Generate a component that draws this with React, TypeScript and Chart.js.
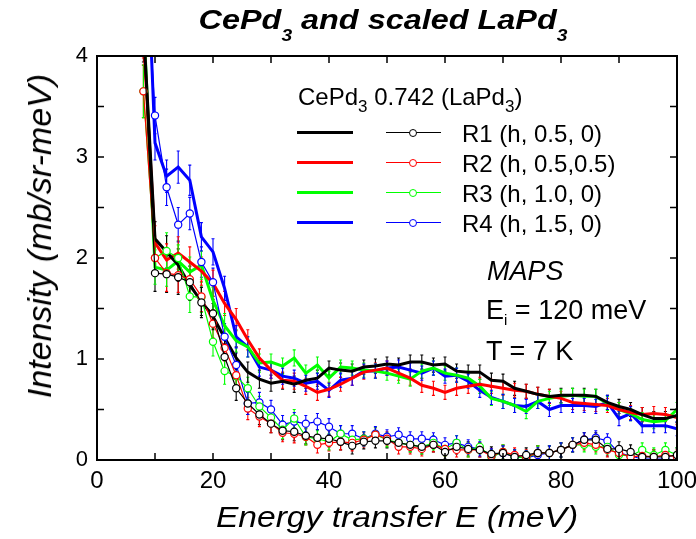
import React, { useEffect, useRef } from "react";
import { Chart, registerables } from "chart.js";

Chart.register(...registerables);

const FONT = '"Liberation Sans", Arial, Helvetica, sans-serif';

// Energy transfer (meV)
const energies = [8, 10, 12, 14, 16, 18, 20, 22, 24, 26, 28, 30, 32, 34, 36, 38, 40, 42, 44, 46, 48, 50, 52, 54, 56, 58, 60, 62, 64, 66, 68, 70, 72, 74, 76, 78, 80, 82, 84, 86, 88, 90, 92, 94, 96, 98, 100];

// CePd3 (thick lines)
const cePdR1 = [4.3, 2.19, 2.06, 1.93, 1.73, 1.57, 1.42, 1.21, 1.01, 0.87, 0.80, 0.76, 0.78, 0.75, 0.79, 0.81, 0.91, 0.89, 0.88, 0.92, 0.93, 0.95, 0.94, 0.97, 0.97, 0.94, 0.95, 0.88, 0.87, 0.87, 0.79, 0.78, 0.71, 0.68, 0.65, 0.63, 0.64, 0.64, 0.64, 0.63, 0.57, 0.53, 0.50, 0.45, 0.41, 0.41, 0.44];
const cePdR2 = [4.2, 2.15, 1.98, 2.05, 1.96, 1.87, 1.75, 1.55, 1.39, 1.19, 1.01, 0.89, 0.79, 0.78, 0.73, 0.67, 0.70, 0.75, 0.81, 0.87, 0.89, 0.91, 0.86, 0.81, 0.74, 0.71, 0.67, 0.71, 0.73, 0.75, 0.73, 0.71, 0.69, 0.68, 0.65, 0.63, 0.61, 0.57, 0.56, 0.55, 0.54, 0.50, 0.47, 0.45, 0.46, 0.45, 0.42];
const cePdR3 = [4.4, 1.91, 1.88, 1.97, 1.86, 1.93, 1.58, 1.33, 1.18, 1.12, 0.96, 0.97, 0.93, 1.01, 0.86, 0.94, 0.81, 0.92, 0.91, 0.89, 0.88, 0.86, 0.83, 0.80, 0.88, 0.91, 0.86, 0.84, 0.81, 0.73, 0.61, 0.58, 0.54, 0.48, 0.58, 0.61, 0.63, 0.64, 0.63, 0.63, 0.56, 0.50, 0.46, 0.40, 0.38, 0.39, 0.50];
const cePdR4 = [6.0, 3.14, 2.81, 2.90, 2.77, 2.21, 2.06, 1.70, 1.22, 1.12, 0.92, 0.89, 0.83, 0.81, 0.76, 0.78, 0.69, 0.79, 0.81, 0.88, 0.88, 0.91, 0.92, 0.89, 0.86, 0.91, 0.83, 0.84, 0.78, 0.69, 0.62, 0.58, 0.54, 0.53, 0.58, 0.50, 0.54, 0.54, 0.54, 0.53, 0.57, 0.41, 0.46, 0.34, 0.34, 0.34, 0.31];

// 0.742 x LaPd3 (thin lines with circles)
const laPdR1 = [4.2, 1.85, 1.84, 1.81, 1.76, 1.56, 1.45, 1.02, 0.71, 0.56, 0.45, 0.36, 0.29, 0.28, 0.24, 0.22, 0.21, 0.18, 0.14, 0.18, 0.19, 0.19, 0.17, 0.15, 0.13, 0.15, 0.08, 0.13, 0.11, 0.10, 0.06, 0.07, 0.03, 0.05, 0.07, 0.07, 0.10, 0.15, 0.20, 0.20, 0.11, 0.11, 0.08, 0.03, 0.03, 0.03, 0.05];
const laPdR2 = [3.65, 2.0, 1.85, 1.83, 1.79, 1.62, 1.35, 1.11, 0.84, 0.51, 0.43, 0.36, 0.27, 0.26, 0.23, 0.15, 0.17, 0.18, 0.17, 0.20, 0.25, 0.21, 0.13, 0.13, 0.11, 0.15, 0.11, 0.10, 0.10, 0.10, 0.04, 0.08, 0.05, 0.03, 0.07, 0.07, 0.10, 0.15, 0.17, 0.15, 0.10, 0.07, 0.03, 0.04, 0.03, 0.05, 0.03];
const laPdR3 = [3.65, 2.0, 2.07, 2.0, 1.62, 1.61, 1.17, 0.88, 0.83, 0.71, 0.53, 0.42, 0.30, 0.41, 0.23, 0.21, 0.18, 0.26, 0.20, 0.21, 0.25, 0.20, 0.17, 0.15, 0.13, 0.17, 0.11, 0.17, 0.10, 0.13, 0.03, 0.08, 0.03, 0.02, 0.07, 0.07, 0.10, 0.15, 0.15, 0.13, 0.13, 0.05, 0.04, 0.10, 0.05, 0.10, 0.05];
const laPdR4 = [5.5, 3.41, 2.70, 2.33, 2.44, 1.96, 1.76, 1.22, 0.94, 0.56, 0.57, 0.50, 0.35, 0.38, 0.36, 0.38, 0.33, 0.26, 0.26, 0.21, 0.26, 0.23, 0.25, 0.21, 0.21, 0.20, 0.15, 0.17, 0.13, 0.11, 0.04, 0.07, 0.03, 0.02, 0.05, 0.07, 0.10, 0.15, 0.20, 0.22, 0.19, 0.07, 0.04, 0.01, 0.01, 0.01, 0.0];

// error bar half-heights
const errThick = [0.22, 0.17, 0.16, 0.16, 0.15, 0.14, 0.13, 0.12, 0.11, 0.10, 0.09, 0.08, 0.08, 0.08, 0.08, 0.08, 0.07, 0.07, 0.07, 0.07, 0.07, 0.07, 0.07, 0.07, 0.07, 0.07, 0.07, 0.07, 0.07, 0.07, 0.07, 0.07, 0.07, 0.07, 0.07, 0.07, 0.07, 0.07, 0.07, 0.07, 0.07, 0.07, 0.07, 0.07, 0.07, 0.07, 0.07];
const errThin = [0.26, 0.18, 0.18, 0.17, 0.16, 0.15, 0.14, 0.13, 0.12, 0.11, 0.10, 0.09, 0.09, 0.09, 0.08, 0.08, 0.08, 0.08, 0.08, 0.07, 0.07, 0.07, 0.07, 0.07, 0.07, 0.07, 0.07, 0.07, 0.07, 0.07, 0.07, 0.07, 0.07, 0.07, 0.07, 0.07, 0.07, 0.07, 0.07, 0.07, 0.07, 0.07, 0.07, 0.07, 0.07, 0.07, 0.07];

const seriesLabels = ["R1 (h, 0.5, 0)", "R2 (h, 0.5,0.5)", "R3 (h, 1.0, 0)", "R4 (h, 1.5, 0)"];
const seriesColors = ["#000000", "#ff0000", "#00ff00", "#0000ff"];
const cePdSeries = [cePdR1, cePdR2, cePdR3, cePdR4];
const laPdSeries = [laPdR1, laPdR2, laPdR3, laPdR4];

const xTicks = [0, 20, 40, 60, 80, 100];
const yTicks = [0, 1, 2, 3, 4];

function Sub({ children, size, top }: { children: React.ReactNode; size: number; top: number }) {
  return <span style={{ fontSize: size, position: "relative", top }}>{children}</span>;
}

export default function App() {
  const ref = useRef<HTMLCanvasElement>(null);

  useEffect(() => {
    const canvas = ref.current;
    if (!canvas) return;

    const errInfo: { values: number[]; errors: number[]; color: string }[] = [];
    const datasets: any[] = [];
    laPdSeries.forEach((vals, k) => {
      datasets.push({
        label: "LaPd3 " + seriesLabels[k],
        data: energies.map((e, i) => ({ x: e, y: vals[i] })),
        borderColor: seriesColors[k],
        borderWidth: 1.2,
        pointRadius: 3.6,
        pointBorderWidth: 1.2,
        pointBackgroundColor: "#ffffff",
        pointBorderColor: seriesColors[k],
        tension: 0,
        fill: false,
      });
      errInfo.push({ values: vals, errors: errThin, color: seriesColors[k] });
    });
    cePdSeries.forEach((vals, k) => {
      datasets.push({
        label: "CePd3 " + seriesLabels[k],
        data: energies.map((e, i) => ({ x: e, y: vals[i] })),
        borderColor: seriesColors[k],
        borderWidth: 3,
        pointRadius: 0,
        tension: 0,
        fill: false,
      });
      errInfo.push({ values: vals, errors: errThick, color: seriesColors[k] });
    });

    const errorBars = {
      id: "errorBars",
      beforeDatasetsDraw(chart: any) {
        const { ctx, chartArea, scales } = chart;
        ctx.save();
        ctx.beginPath();
        ctx.rect(chartArea.left, chartArea.top, chartArea.right - chartArea.left, chartArea.bottom - chartArea.top);
        ctx.clip();
        ctx.lineWidth = 1.1;
        errInfo.forEach((s) => {
          ctx.strokeStyle = s.color;
          ctx.beginPath();
          energies.forEach((e, i) => {
            const px = scales.x.getPixelForValue(e);
            const y1 = scales.y.getPixelForValue(s.values[i] - s.errors[i]);
            const y2 = scales.y.getPixelForValue(s.values[i] + s.errors[i]);
            ctx.moveTo(px, y1);
            ctx.lineTo(px, y2);
            ctx.moveTo(px - 1.5, y1);
            ctx.lineTo(px + 1.5, y1);
            ctx.moveTo(px - 1.5, y2);
            ctx.lineTo(px + 1.5, y2);
          });
          ctx.stroke();
        });
        ctx.restore();
      },
    };

    const frame = {
      id: "frame",
      afterDraw(chart: any) {
        const { ctx, chartArea, scales } = chart;
        const { left, right, top, bottom } = chartArea;
        ctx.save();
        ctx.strokeStyle = "#000";
        ctx.lineWidth = 1.5;
        ctx.beginPath();
        for (let v = 10; v < 100; v += 10) {
          const px = scales.x.getPixelForValue(v);
          ctx.moveTo(px, bottom);
          ctx.lineTo(px, bottom - 7);
          ctx.moveTo(px, top);
          ctx.lineTo(px, top + 7);
        }
        for (let v = 0.5; v < 4; v += 0.5) {
          const py = scales.y.getPixelForValue(v);
          ctx.moveTo(left, py);
          ctx.lineTo(left + 7, py);
          ctx.moveTo(right, py);
          ctx.lineTo(right - 7, py);
        }
        ctx.stroke();
        ctx.lineWidth = 2;
        ctx.strokeRect(left, top, right - left, bottom - top);
        ctx.restore();
      },
    };

    const chart = new Chart(canvas, {
      type: "line",
      data: { datasets },
      options: {
        animation: false,
        responsive: false,
        devicePixelRatio: 1,
        events: [],
        layout: { padding: { left: 0, right: 19, top: 56, bottom: 0 } },
        plugins: {
          legend: { display: false },
          title: { display: false },
          tooltip: { enabled: false },
        },
        scales: {
          x: {
            type: "linear",
            min: 0,
            max: 100,
            grid: { display: false, drawTicks: false },
            border: { display: false },
            afterBuildTicks: (s: any) => {
              s.ticks = xTicks.map((v) => ({ value: v }));
            },
            ticks: {
              color: "#000",
              font: { family: FONT, size: 24 },
              padding: 7,
              maxRotation: 0,
              autoSkip: false,
            },
            afterFit: (s: any) => {
              s.height = 79;
              s.paddingLeft = 0;
              s.paddingRight = 0;
            },
          },
          y: {
            type: "linear",
            min: 0,
            max: 4,
            grid: { display: false, drawTicks: false },
            border: { display: false },
            afterBuildTicks: (s: any) => {
              s.ticks = yTicks.map((v) => ({ value: v }));
            },
            ticks: {
              color: "#000",
              font: { family: FONT, size: 22 },
              padding: 9,
              autoSkip: false,
            },
            afterFit: (s: any) => {
              s.width = 97;
              s.paddingTop = 0;
              s.paddingBottom = 0;
            },
          },
        },
      } as any,
      plugins: [errorBars, frame],
    });

    return () => chart.destroy();
  }, []);

  const abs: React.CSSProperties = { position: "absolute", whiteSpace: "nowrap", lineHeight: 1 };
  const rowY = [132.7, 162.7, 192.7, 222.7];

  return (
    <div style={{ position: "fixed", left: 0, top: 0, width: 696, height: 539, background: "#fff", fontFamily: FONT, color: "#000", overflow: "hidden" }}>
      <canvas ref={ref} width={696} height={539} style={{ position: "absolute", left: 0, top: 0, width: 696, height: 539 }} />

      {/* Title */}
      <div style={{ ...abs, left: 83, width: 600, top: 30 - 0.8465 * 27, fontSize: 27, textAlign: "center", fontWeight: "bold", fontStyle: "italic", transform: "scaleX(1.2)" }}>
        CePd<Sub size={16} top={12}>3</Sub> and scaled LaPd<Sub size={16} top={12}>3</Sub>
      </div>

      {/* Axis titles */}
      <div style={{ ...abs, left: 97, width: 600, top: 527 - 0.8465 * 30, fontSize: 30, textAlign: "center", fontStyle: "italic", transform: "scaleX(1.12)" }}>
        Energy transfer E (meV)
      </div>
      <div style={{ ...abs, left: 39, top: 236, fontSize: 34, fontStyle: "italic", transform: "translate(-50%, -50%) rotate(-90deg)" }}>
        Intensity (mb/sr-meV)
      </div>

      {/* Legend */}
      <div style={{ ...abs, left: 298, top: 105 - 0.8465 * 24, fontSize: 24 }}>
        CePd<Sub size={17} top={7}>3</Sub> 0.742 (LaPd<Sub size={17} top={7}>3</Sub>)
      </div>
      {seriesLabels.map((lab, k) => (
        <React.Fragment key={lab}>
          <div style={{ position: "absolute", left: 297, top: rowY[k] - 1.5, width: 56, height: 3, background: seriesColors[k] }} />
          <div style={{ position: "absolute", left: 386, top: rowY[k] - 0.6, width: 55, height: 1.2, background: seriesColors[k] }} />
          <div style={{ position: "absolute", left: 413 - 4.2, top: rowY[k] - 4.2, width: 6, height: 6, borderRadius: "50%", border: `1.2px solid ${seriesColors[k]}`, background: "#fff" }} />
          <div style={{ ...abs, left: 462, top: rowY[k] + 10 - 0.8465 * 24, fontSize: 24 }}>{lab}</div>
        </React.Fragment>
      ))}

      {/* Annotation */}
      <div style={{ ...abs, left: 487, top: 281 - 0.8465 * 27, fontSize: 27, fontStyle: "italic" }}>MAPS</div>
      <div style={{ ...abs, left: 486, top: 320 - 0.8465 * 27, fontSize: 27 }}>
        E<Sub size={15} top={6}>i</Sub> = 120 meV
      </div>
      <div style={{ ...abs, left: 486, top: 361 - 0.8465 * 27, fontSize: 27 }}>T = 7 K</div>
    </div>
  );
}
